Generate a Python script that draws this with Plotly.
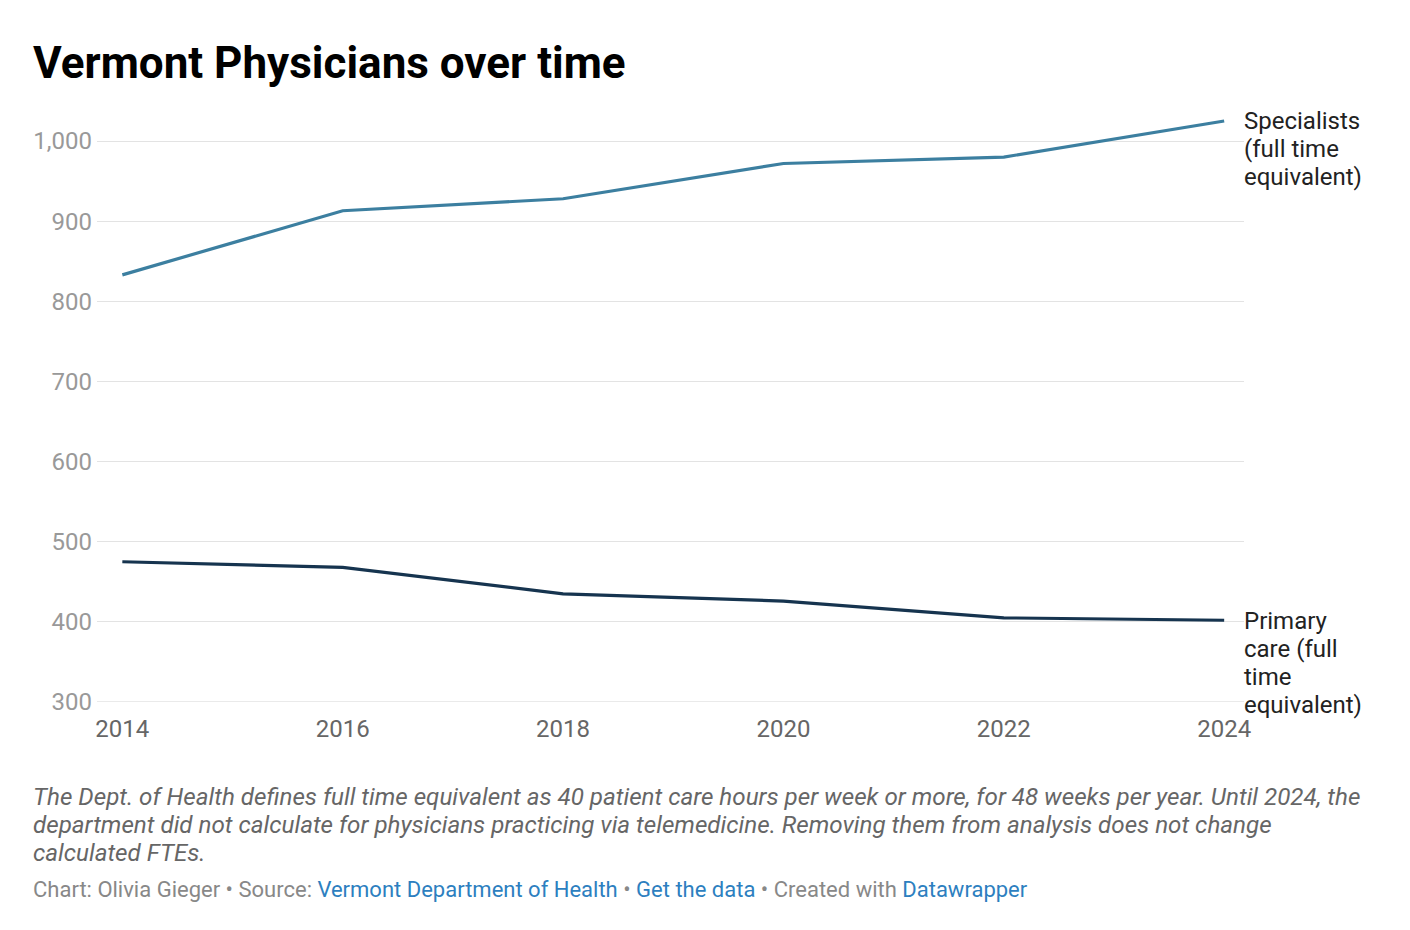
import plotly.graph_objects as go

years = [2014, 2016, 2018, 2020, 2022, 2024]
specialists = [833, 913, 928, 972, 980, 1025]
primary = [475, 468, 435, 426, 405, 402]
yticks = [300, 400, 500, 600, 700, 800, 900, 1000]
ylabels = ["300", "400", "500", "600", "700", "800", "900", "1,000"]
spec_label = ["Specialists", "(full time", "equivalent)"]
prim_label = ["Primary", "care (full", "time", "equivalent)"]
title = "Vermont Physicians over time"
note_lines = [
    "The Dept. of Health defines full time equivalent as 40 patient care hours per week or more, for 48 weeks per year. Until 2024, the",
    "department did not calculate for physicians practicing via telemedicine. Removing them from analysis does not change",
    "calculated FTEs.",
]

L, T, R, B = 97, 117, 1244, 702  # plot area in screenshot pixels
OFF = 8  # page body offset
W, H = R - L, B - T

def px(xp, yp):
    return (xp - L) / W, (B - yp) / H

fig = go.Figure()
fig.add_trace(go.Scatter(x=years, y=specialists, mode="lines", line=dict(color="#3c7fa0", width=3.2), hoverinfo="skip"))
fig.add_trace(go.Scatter(x=years, y=primary, mode="lines", line=dict(color="#16344f", width=3.2), hoverinfo="skip"))

fig.update_layout(
    width=1410, height=930, showlegend=False,
    paper_bgcolor="white", plot_bgcolor="white",
    margin=dict(l=L - OFF, r=1410 - R + OFF, t=T - OFF, b=930 - B + OFF),
    font=dict(family="Roboto"),
    xaxis=dict(range=[2013.77, 2024.18], tickvals=years, showgrid=False, zeroline=False,
               tickfont=dict(size=24, color="#666"), ticks="", showline=False, ticklabelstandoff=10),
    yaxis=dict(range=[300, 1030], tickvals=yticks, ticktext=ylabels, showgrid=True, gridcolor="#e3e3e3",
               gridwidth=1.2, zeroline=False, tickfont=dict(size=24, color="#999"), ticks="", ticklabelstandoff=4),
)
fig.add_shape(type="line", xref="paper", yref="y", x0=0, x1=1, y0=yticks[0], y1=yticks[0],
              line=dict(color="#e3e3e3", width=1.5), layer="below")

def text_at(xp, yp, txt, size, color, anchor="left"):
    x, y = px(xp - 2, yp)
    fig.add_annotation(x=x, y=y, xref="paper", yref="paper", showarrow=False, xanchor=anchor, yanchor="middle",
                       align="left", text=txt, font=dict(size=size, color=color))

for i, s in enumerate(spec_label):
    text_at(1244, 121 + 28 * i, s, 24, "#222")
for i, s in enumerate(prim_label):
    text_at(1244, 621 + 28 * i, s, 24, "#222")

text_at(33, 63, "<b>" + title + "</b>", 44, "#000")
for i, s in enumerate(note_lines):
    text_at(33, 797 + 28 * i, "<i>" + s + "</i>", 24.2, "#666")

blue = "#2d7fc0"
foot = ("Chart: Olivia Gieger • Source: <span style='color:%s'>Vermont Department of Health</span> • "
        "<span style='color:%s'>Get the data</span> • Created with <span style='color:%s'>Datawrapper</span>") % (blue, blue, blue)
text_at(33, 889, foot, 22, "#888")

fig.write_html("out.html")
